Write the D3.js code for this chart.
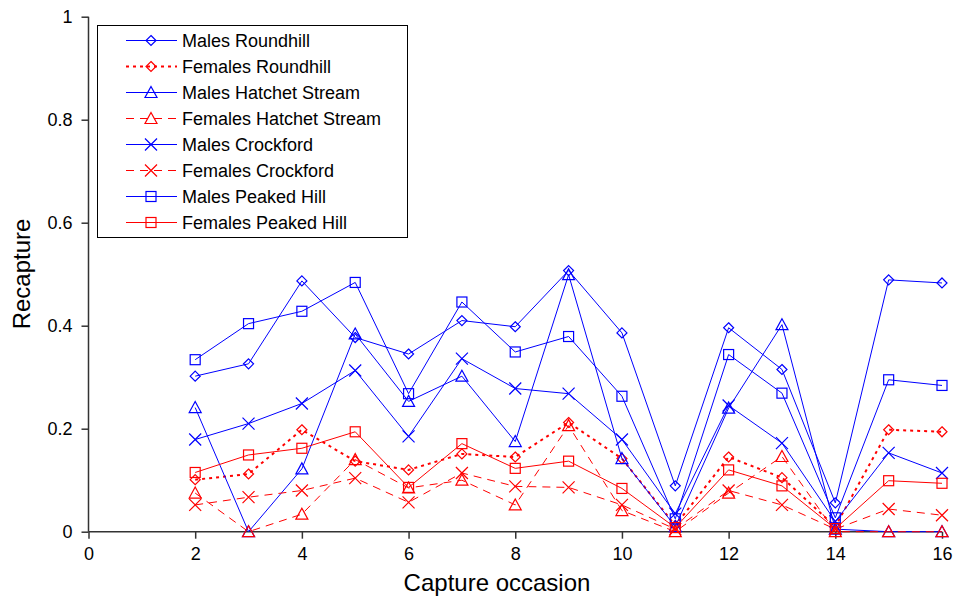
<!DOCTYPE html>
<html><head><meta charset="utf-8">
<script src="https://cdn.jsdelivr.net/npm/d3@7"></script>
<style>body{margin:0;background:#fff}svg{display:block}text{font-family:"Liberation Sans",Arial,sans-serif}</style>
</head><body><svg id="c" width="956" height="596"></svg>
<script>
const occasions = [2,3,4,5,6,7,8,9,10,11,12,13,14,15,16];
const xTicks = [0,2,4,6,8,10,12,14,16];
const yTicks = [0,0.2,0.4,0.6,0.8,1];
const malesRoundhill     = [0.302,0.326,0.487,0.377,0.345,0.410,0.398,0.507,0.386,0.089,0.396,0.315,0.056,0.489,0.483];
const femalesRoundhill   = [0.101,0.112,0.198,0.137,0.120,0.151,0.145,0.212,0.142,0.012,0.145,0.105,0.010,0.198,0.194];
const malesHatchet       = [0.241,0.000,0.122,0.384,0.253,0.302,0.175,0.499,0.142,0.010,0.240,0.402,0.005,0.000,0.000];
const femalesHatchet     = [0.075,0.000,0.034,0.140,0.085,0.100,0.052,0.206,0.041,0.000,0.075,0.146,0.000,0.000,0.000];
const malesCrockford     = [0.179,0.210,0.249,0.313,0.185,0.336,0.278,0.268,0.179,0.035,0.245,0.172,0.020,0.153,0.114];
const femalesCrockford   = [0.052,0.067,0.080,0.104,0.057,0.114,0.088,0.086,0.052,0.005,0.080,0.052,0.005,0.044,0.032];
const malesPeakedHill    = [0.334,0.404,0.428,0.484,0.268,0.446,0.349,0.379,0.263,0.025,0.344,0.269,0.027,0.295,0.284];
const femalesPeakedHill  = [0.115,0.149,0.162,0.194,0.086,0.171,0.123,0.137,0.084,0.008,0.120,0.089,0.006,0.099,0.094];
const seriesNames = ["Males Roundhill","Females Roundhill","Males Hatchet Stream","Females Hatchet Stream","Males Crockford","Females Crockford","Males Peaked Hill","Females Peaked Hill"];

const BLUE="#0000ff", RED="#ff0000";
const series = [
 {name:seriesNames[0], v:malesRoundhill,   c:BLUE, dash:null, w:1, m:"diamond"},
 {name:seriesNames[1], v:femalesRoundhill, c:RED,  dash:"3,4", w:2, m:"diamond"},
 {name:seriesNames[2], v:malesHatchet,     c:BLUE, dash:null, w:1, m:"triangle"},
 {name:seriesNames[3], v:femalesHatchet,   c:RED,  dash:"8,6", w:1, m:"triangle"},
 {name:seriesNames[4], v:malesCrockford,   c:BLUE, dash:null, w:1, m:"cross"},
 {name:seriesNames[5], v:femalesCrockford, c:RED,  dash:"8,6", w:1, m:"cross"},
 {name:seriesNames[6], v:malesPeakedHill,  c:BLUE, dash:null, w:1, m:"square"},
 {name:seriesNames[7], v:femalesPeakedHill,c:RED,  dash:null, w:1, m:"square"}
];

const svg = d3.select("#c");
const x = d3.scaleLinear().domain([0,16]).range([88.5,942]);
const y = d3.scaleLinear().domain([0,1]).range([531.7,16.7]);

function marker(g, type, cx, cy, color){
  const s = 5;
  if(type==="diamond"){
    g.append("path").attr("d",`M${cx},${cy-s}L${cx+s},${cy}L${cx},${cy+s}L${cx-s},${cy}Z`)
     .attr("fill","none").attr("stroke",color).attr("stroke-width",1.2);
  } else if(type==="square"){
    g.append("rect").attr("x",cx-s).attr("y",cy-s).attr("width",2*s).attr("height",2*s)
     .attr("fill","none").attr("stroke",color).attr("stroke-width",1.2);
  } else if(type==="triangle"){
    g.append("path").attr("d",`M${cx},${cy-6}L${cx+6},${cy+5}L${cx-6},${cy+5}Z`)
     .attr("fill","none").attr("stroke",color).attr("stroke-width",1.2);
  } else {
    g.append("path").attr("d",`M${cx-6},${cy-6}L${cx+6},${cy+6}M${cx-6},${cy+6}L${cx+6},${cy-6}`)
     .attr("fill","none").attr("stroke",color).attr("stroke-width",1.2);
  }
}

// axes
const yAxis = svg.append("g").attr("transform","translate(88.5,0)")
  .call(d3.axisLeft(y).tickValues(yTicks).tickSize(7).tickPadding(9).tickFormat(d=>d===0?"0":d===1?"1":d3.format(".1f")(d)));
const xAxis = svg.append("g").attr("transform","translate(0,531.7)")
  .call(d3.axisBottom(x).tickValues(xTicks).tickSize(7).tickPadding(9).tickFormat(d3.format("d")));
[yAxis,xAxis].forEach(a=>{
  a.select(".domain").attr("stroke","#333").attr("stroke-width",1.5);
  a.selectAll(".tick line").attr("stroke","#333").attr("stroke-width",1.5);
  a.selectAll("text").attr("font-size",18).attr("fill","#000").style("font-family","Liberation Sans, Arial, sans-serif");
});
xAxis.select(".domain").attr("d",`M88.5,0H942`);
yAxis.select(".domain").attr("d",`M0,531.7V16.7`);

svg.append("text").attr("x",497).attr("y",591).attr("text-anchor","middle").attr("font-size",24).text("Capture occasion");
svg.append("text").attr("transform","translate(30,274) rotate(-90)").attr("text-anchor","middle").attr("font-size",24).text("Recapture");

// series
const line = d3.line().x((d,i)=>x(occasions[i])).y(d=>y(d));
const plot = svg.append("g");
series.forEach(s=>{
  plot.append("path").datum(s.v).attr("d",line).attr("fill","none")
    .attr("stroke",s.c).attr("stroke-width",s.w).attr("stroke-dasharray",s.dash);
});
series.forEach(s=>{
  const g = plot.append("g");
  s.v.forEach((v,i)=>marker(g,s.m,x(occasions[i]),y(v),s.c));
});

// legend
const lg = svg.append("g");
lg.append("rect").attr("x",97.5).attr("y",25.5).attr("width",310).attr("height",212)
  .attr("fill","#fff").attr("stroke","#000").attr("stroke-width",1);
series.forEach((s,i)=>{
  const yy = 40.5 + i*26;
  lg.append("line").attr("x1",126).attr("x2",177).attr("y1",yy).attr("y2",yy)
    .attr("stroke",s.c).attr("stroke-width",s.w).attr("stroke-dasharray",s.dash);
  marker(lg,s.m,151,yy,s.c);
  lg.append("text").attr("x",182).attr("y",yy+6).attr("font-size",18).text(s.name);
});
</script></body></html>
